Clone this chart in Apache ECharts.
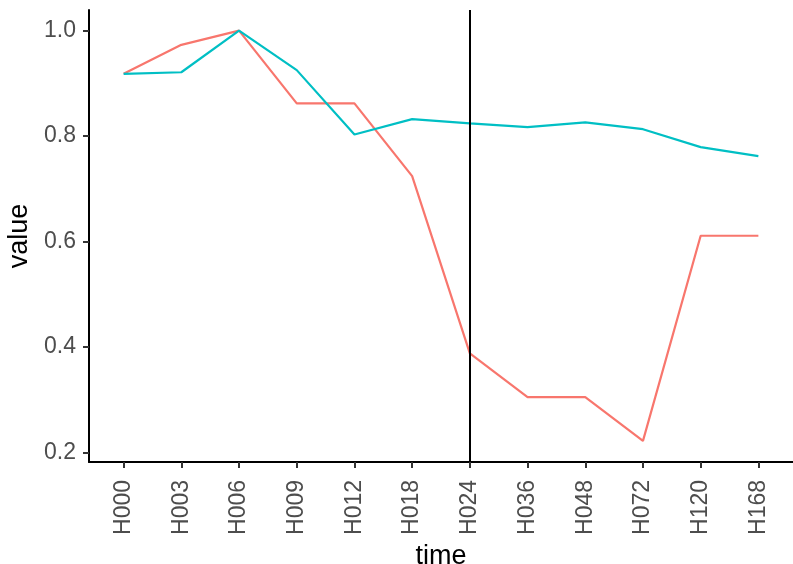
<!DOCTYPE html>
<html>
<head>
<meta charset="utf-8">
<script src="https://cdn.jsdelivr.net/npm/echarts@6/dist/echarts.min.js"></script>
<style>
html,body{margin:0;padding:0;background:#fff;}
#chart{width:793px;height:564px;}
</style>
</head>
<body>
<div id="chart"></div>
<script>
// categories (x) and series values
var categories = ['H000','H003','H006','H009','H012','H018','H024','H036','H048','H072','H120','H168'];
var seriesRed  = [0.918, 0.973, 1.000, 0.862, 0.862, 0.724, 0.388, 0.305, 0.305, 0.222, 0.611, 0.611];
var seriesCyan = [0.918, 0.921, 1.000, 0.925, 0.803, 0.832, 0.824, 0.817, 0.826, 0.813, 0.779, 0.762];
var yTicks = [0.2, 0.4, 0.6, 0.8, 1.0];
var vlineCategory = 'H024';

function toPairs(arr){ return arr.map(function(v,i){ return [i, v]; }); }
var idx = categories.map(function(c,i){ return i; });

var FONT = 'Liberation Sans, Arial, Helvetica, sans-serif';
var chart = echarts.init(document.getElementById('chart'), null, {renderer:'canvas'});
chart.setOption({
  animation: false,
  backgroundColor: '#ffffff',
  grid: {left: 89, right: 0, top: 10, bottom: 102, containLabel: false, outerBoundsMode: 'none'},
  xAxis: {
    type: 'value',
    min: -0.6,
    max: categories.length - 1 + 0.6,
    name: 'time',
    nameLocation: 'middle',
    nameGap: 74,
    nameTextStyle: {color: '#000', fontSize: 27, fontFamily: FONT},
    axisLine: {show: true, onZero: false, lineStyle: {color: '#000', width: 2}},
    axisTick: {show: true, customValues: idx, length: 6, lineStyle: {color: '#333', width: 2}},
    axisLabel: {
      show: true, customValues: idx, rotate: 90, margin: 18,
      color: '#4D4D4D', fontSize: 23, fontFamily: FONT,
      formatter: function(v){ return categories[Math.round(v)]; }
    },
    splitLine: {show: false}
  },
  yAxis: {
    type: 'value',
    min: 0.182,
    max: 1.039,
    name: 'value',
    nameLocation: 'middle',
    nameGap: 56,
    nameTextStyle: {color: '#000', fontSize: 27, fontFamily: FONT},
    axisLine: {show: true, onZero: false, lineStyle: {color: '#000', width: 2}},
    axisTick: {show: true, customValues: yTicks, length: 6, lineStyle: {color: '#333', width: 2}},
    axisLabel: {
      show: true, customValues: yTicks, margin: 13,
      color: '#4D4D4D', fontSize: 23, fontFamily: FONT,
      formatter: function(v){ return v.toFixed(1); }
    },
    splitLine: {show: false}
  },
  series: [
    {type: 'line', data: toPairs(seriesRed), showSymbol: false, symbol: 'none',
     lineStyle: {color: '#F8766D', width: 2.2}, itemStyle: {color: '#F8766D'}, z: 2},
    {type: 'line', data: toPairs(seriesCyan), showSymbol: false, symbol: 'none',
     lineStyle: {color: '#00BFC4', width: 2.2}, itemStyle: {color: '#00BFC4'}, z: 3},
    {type: 'line', data: [], z: 5,
     markLine: {
       silent: true, symbol: ['none','none'], label: {show: false},
       lineStyle: {color: '#000', width: 2, type: 'solid'},
       data: [{xAxis: categories.indexOf(vlineCategory)}]
     }}
  ]
});
</script>
</body>
</html>
